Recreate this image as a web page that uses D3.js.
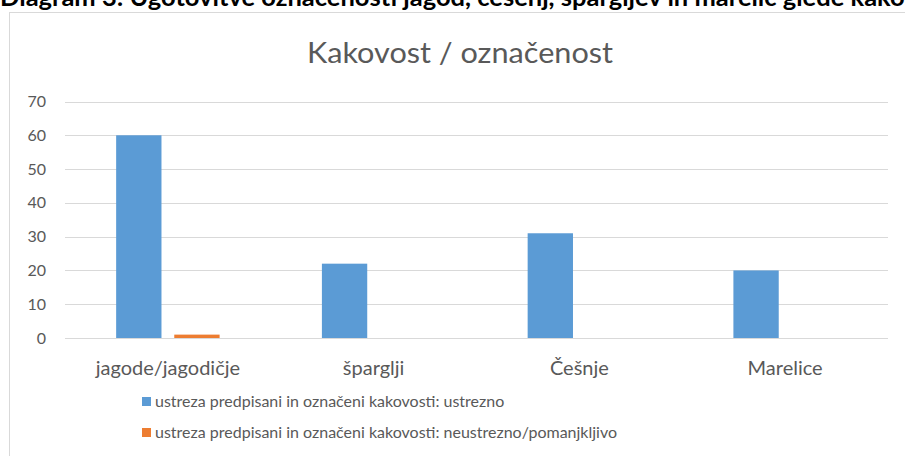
<!DOCTYPE html>
<html>
<head>
<meta charset="utf-8">
<script src="https://cdn.jsdelivr.net/npm/d3@7"></script>
<style>
  body { margin: 0; background: #fff; }
  text { font-family: Lato, "Open Sans", sans-serif; }
</style>
</head>
<body>
<script>
// podatki
const KATEGORIJE = ['jagode/jagodičje', 'šparglji', 'Češnje', 'Marelice']
const SERIJE = [
  'ustreza predpisani in označeni kakovosti: ustrezno',
  'ustreza predpisani in označeni kakovosti: neustrezno/pomanjkljivo'
]
const USTREZNO = [60, 22, 31, 20]
const NEUSTREZNO = [1, 0, 0, 0]
const Y_TICKS = [0, 10, 20, 30, 40, 50, 60, 70]
const BARVE = ['#5b9bd5', '#ed7d31']

const WIDTH = 905
const HEIGHT = 456
const GREY = '#595959'

const svg = d3.select('body').append('svg')
  .attr('width', WIDTH)
  .attr('height', HEIGHT)

// naslov dokumenta, odrezan na vrhu
svg.append('text')
  .attr('x', 0).attr('y', 6)
  .attr('font-size', 25.5).attr('font-weight', 'bold').attr('fill', '#000')
  .text('Diagram 3: Ugotovitve označenosti jagod, češenj, špargljev in marelic glede kakovosti')

// okvir grafa
svg.append('rect')
  .attr('x', 9.5).attr('y', 12.5)
  .attr('width', 1000).attr('height', 1000)
  .attr('fill', '#fff').attr('stroke', '#d9d9d9')

// naslov grafa
svg.append('text')
  .attr('x', 460).attr('y', 63)
  .attr('text-anchor', 'middle')
  .attr('font-size', 28).attr('fill', GREY)
  .attr('textLength', 306).attr('lengthAdjust', 'spacingAndGlyphs')
  .text('Kakovost / označenost')

const x0 = d3.scaleBand().domain(KATEGORIJE).range([65, 888])
const x1 = d3.scaleBand().domain([0, 1])
  .range([0, x0.bandwidth()]).paddingOuter(0.88).paddingInner(0.22)
const y = d3.scaleLinear().domain([0, 70]).range([338, 101.5])

// mreža
svg.append('g').selectAll('line').data(Y_TICKS).join('line')
  .attr('x1', 65).attr('x2', 888)
  .attr('y1', d => Math.round(y(d)) + 0.5).attr('y2', d => Math.round(y(d)) + 0.5)
  .attr('stroke', '#d9d9d9').attr('stroke-width', 1)

// oznake y
svg.append('g').selectAll('text').data(Y_TICKS).join('text')
  .attr('x', 46).attr('y', d => y(d))
  .attr('dy', '0.35em').attr('text-anchor', 'end')
  .attr('font-size', 16).attr('fill', GREY)
  .text(d => d)

// stolpci
const rows = KATEGORIJE.map((k, i) => [USTREZNO[i], NEUSTREZNO[i]])
const g = svg.append('g').selectAll('g').data(rows).join('g')
  .attr('transform', (d, i) => `translate(${x0(KATEGORIJE[i])},0)`)
g.selectAll('rect').data(d => d).join('rect')
  .attr('x', (d, j) => x1(j))
  .attr('width', x1.bandwidth())
  .attr('y', d => y(d))
  .attr('height', d => y(0) - y(d))
  .attr('fill', (d, j) => BARVE[j])

// oznake x
svg.append('g').selectAll('text').data(KATEGORIJE).join('text')
  .attr('x', d => x0(d) + x0.bandwidth() / 2).attr('y', 375)
  .attr('text-anchor', 'middle')
  .attr('font-size', 20).attr('fill', GREY)
  .text(d => d)

// legenda
const leg = svg.append('g').selectAll('g').data(SERIJE).join('g')
  .attr('transform', (d, i) => `translate(142,${397 + i * 31})`)
leg.append('rect').attr('width', 9).attr('height', 9)
  .attr('fill', (d, i) => BARVE[i])
leg.append('text').attr('x', 13).attr('y', 10)
  .attr('font-size', 16).attr('fill', GREY)
  .text(d => d)
</script>
</body>
</html>
